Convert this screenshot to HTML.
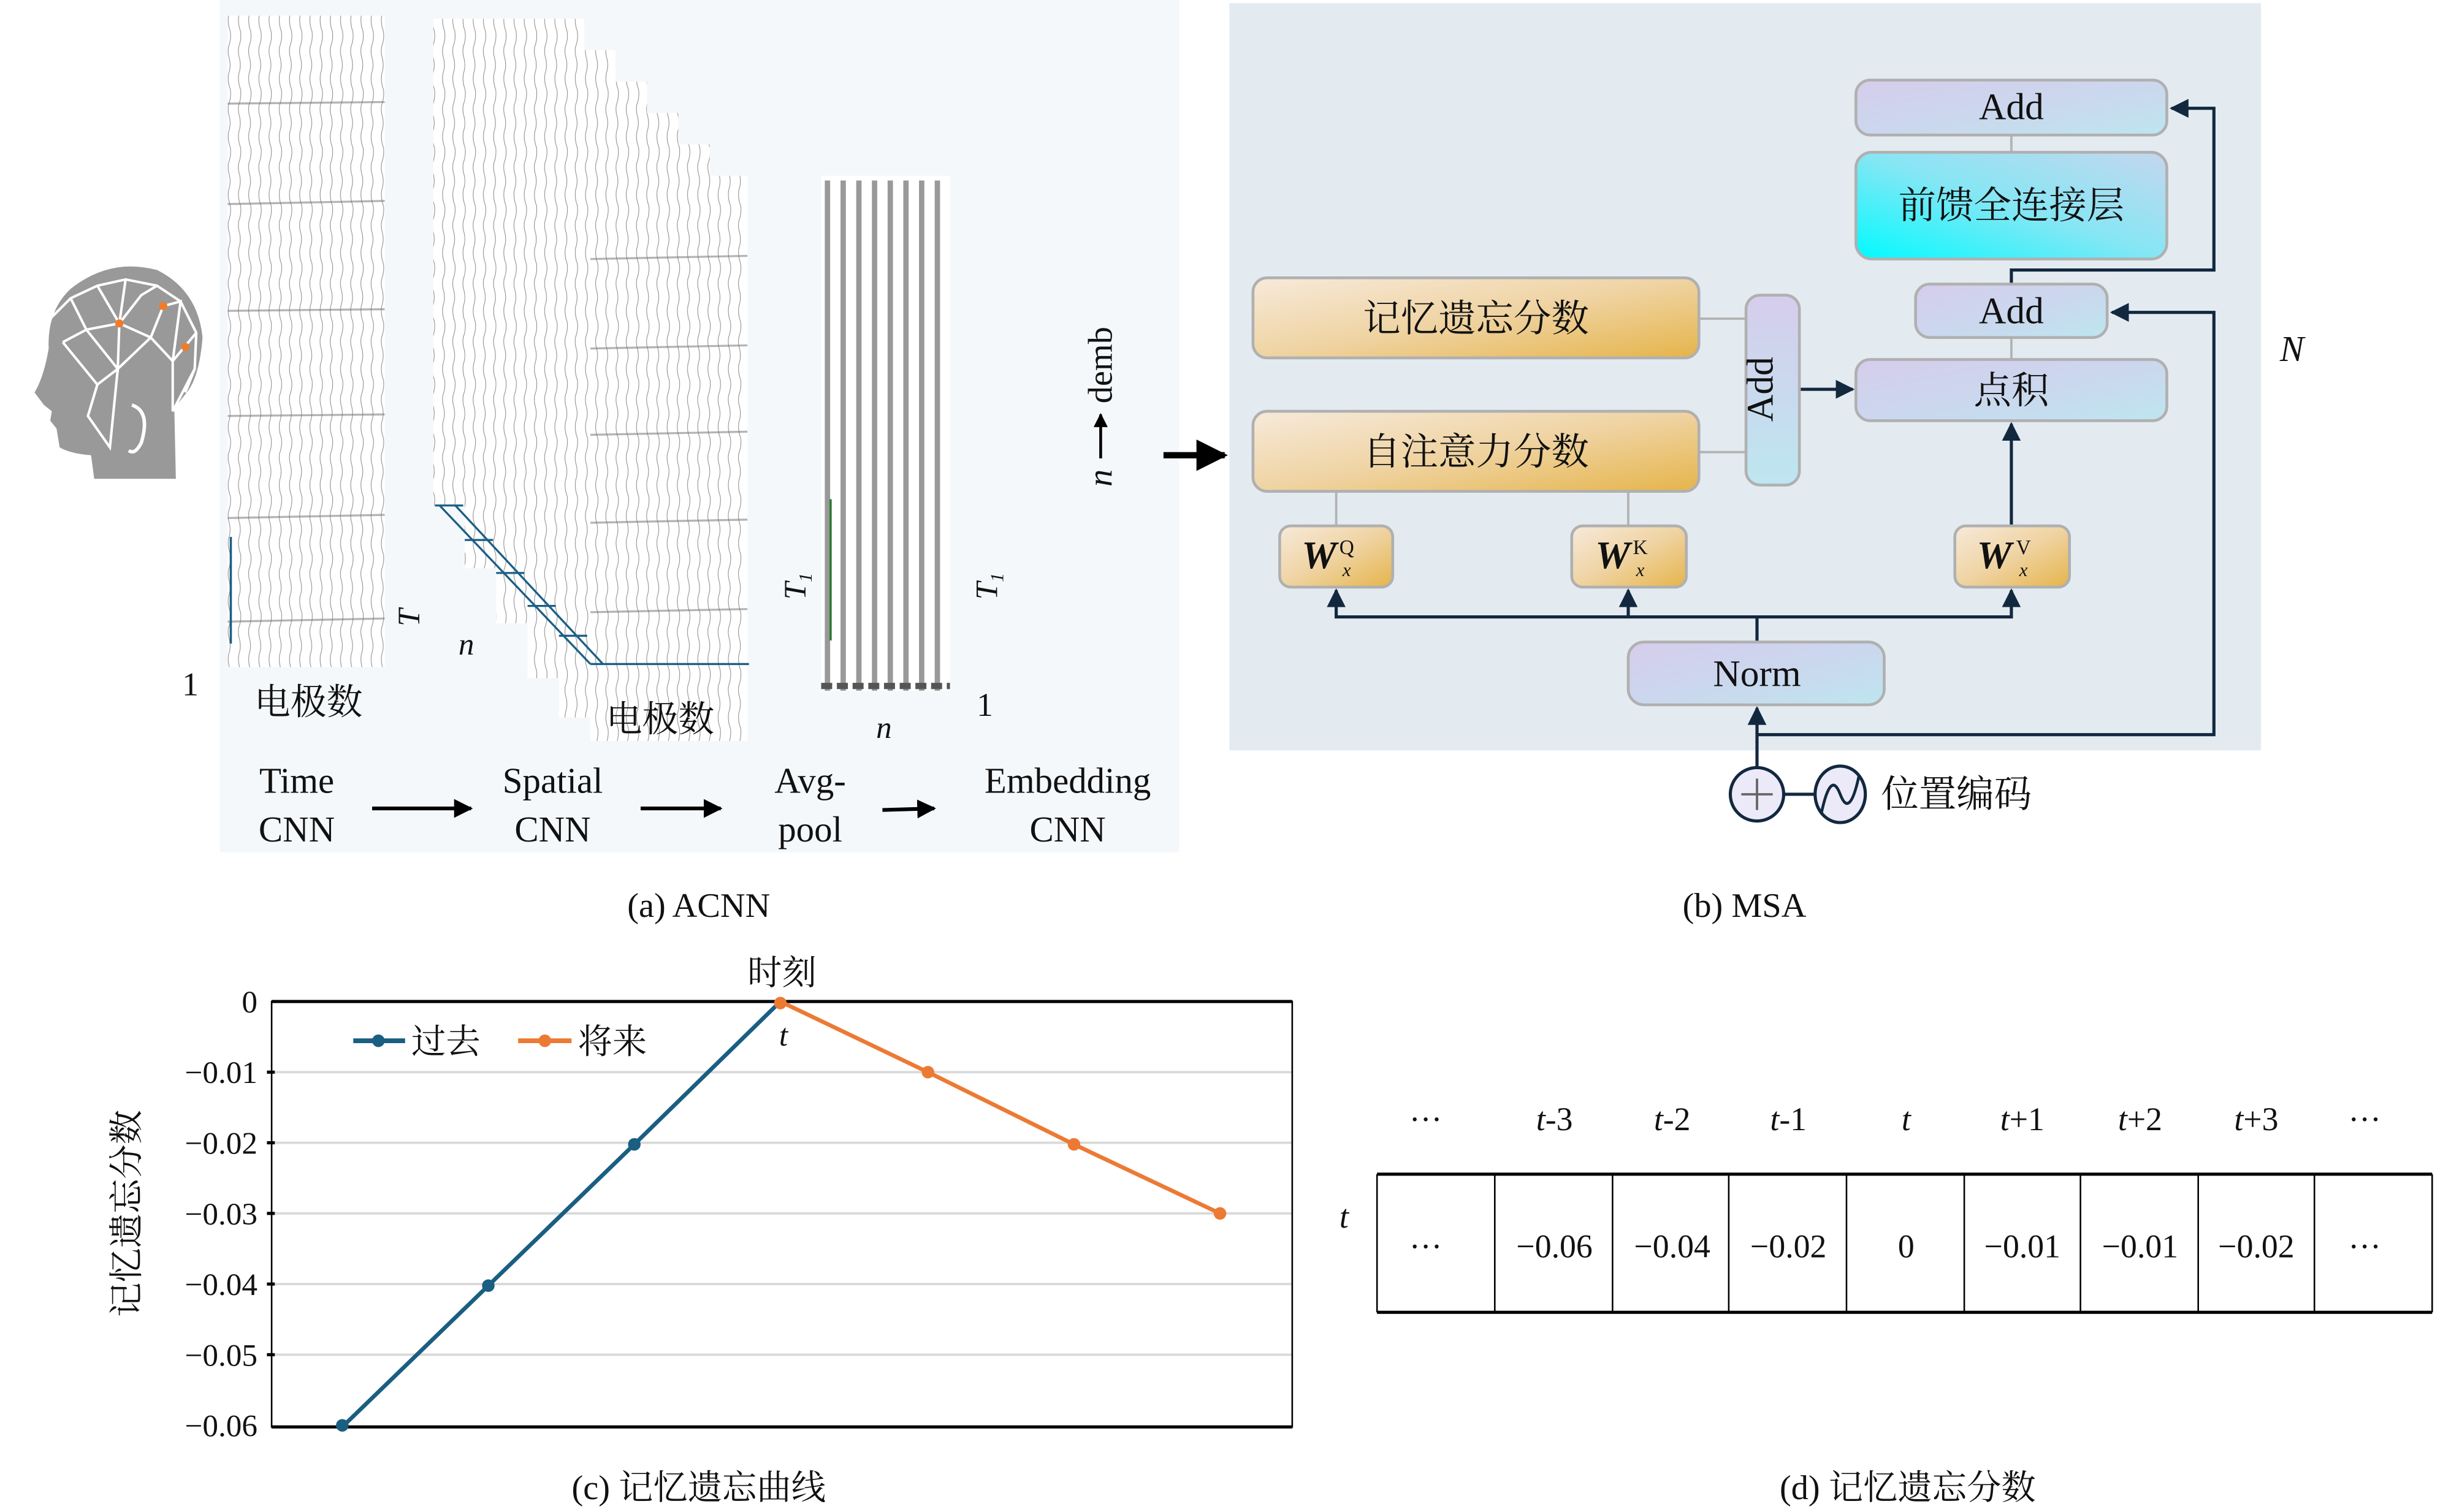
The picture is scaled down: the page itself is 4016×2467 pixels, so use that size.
<!DOCTYPE html>
<html><head><meta charset="utf-8"><style>
html,body{margin:0;padding:0;background:#fff}
svg{display:block}
text{font-family:"Liberation Serif","Noto Serif CJK SC","Noto Sans CJK SC",serif;fill:#111}
</style></head><body>
<svg width="4016" height="2467" viewBox="0 0 1568 963.2" xmlns="http://www.w3.org/2000/svg">
<defs>
<linearGradient id="pu" x1="0" y1="0" x2="1" y2="1"><stop offset="0" stop-color="#d6cdec"/><stop offset="0.6" stop-color="#c9d9ee"/><stop offset="1" stop-color="#bde6f0"/></linearGradient>
<linearGradient id="pu2" x1="0" y1="0" x2="0" y2="1"><stop offset="0" stop-color="#d6cdec"/><stop offset="1" stop-color="#bde6f0"/></linearGradient>
<linearGradient id="or" x1="0" y1="0" x2="1" y2="1"><stop offset="0" stop-color="#f7eadb"/><stop offset="0.5" stop-color="#efd3a2"/><stop offset="1" stop-color="#e5b44a"/></linearGradient>
<linearGradient id="cy" x1="0" y1="1" x2="1" y2="0"><stop offset="0" stop-color="#00fbff"/><stop offset="0.5" stop-color="#86e6f4"/><stop offset="1" stop-color="#c5d6ee"/></linearGradient>
<pattern id="eeg" width="6.5" height="37" patternUnits="userSpaceOnUse">
<path d="M3 0 Q4.3 5 2.6 10 Q1.8 15 3.7 20 Q4.4 25 2.5 30 Q2 34 3 37" fill="none" stroke="#8a8a8a" stroke-width="0.4"/>
</pattern>
<marker id="ar" viewBox="0 0 10 10" refX="9" refY="5" markerWidth="6" markerHeight="6" orient="auto"><path d="M0 0L10 5L0 10Z" fill="#12283f"/></marker>
<marker id="arb" viewBox="0 0 10 10" refX="9" refY="5" markerWidth="5" markerHeight="5" orient="auto"><path d="M0 0L10 5L0 10Z" fill="#000"/></marker>
</defs>

<!-- Panel a -->
<rect x="140" y="0" width="611" height="543" fill="#f5f8fb"/>
<path d="M60 305 L58 290 Q45 289 38 285 L36 273 L32 268 L33 262 L28 258 L22 250 Q28 240 31 222 Q30 198 45 184 Q70 164 100 172 Q126 185 129 215 Q127 240 119 250 L111 260 L112 305 Z" fill="#999"/>
<g stroke="#fff" stroke-width="1.6" fill="none">
<path d="M30 205 L45 190 L62 182 L80 178 L100 182 L115 192 L125 212 L124 235 L118 250"/>
<path d="M45 190 L55 210 L76 206 L90 188 L100 182 M55 210 L75 235 L76 206 L96 215 L104 195 M96 215 L110 230 L125 212 M75 235 L96 215 M40 218 L55 210 M40 218 L62 245 M62 245 L75 235 L70 285 L56 265 L62 245 M110 230 L110 262 L124 235 M62 182 L76 206 M80 178 L76 206 M104 195 L115 192 L110 230"/>
<path d="M84 258 Q96 262 90 282 Q86 290 82 287" stroke-width="2.2"/>
</g>
<circle cx="76" cy="206" r="2.6" fill="#f07c2a"/><circle cx="104" cy="195" r="2.6" fill="#f07c2a"/><circle cx="118" cy="221" r="2.6" fill="#f07c2a"/>

<rect x="145" y="10" width="100" height="415" fill="#fff"/>
<rect x="145" y="10" width="100" height="415" fill="url(#eeg)"/>
<g stroke="#777" stroke-width="1.3" opacity="0.55">
<line x1="145" y1="66" x2="245" y2="65"/><line x1="145" y1="130" x2="245" y2="128"/><line x1="145" y1="198" x2="245" y2="197"/><line x1="145" y1="265" x2="245" y2="264"/><line x1="145" y1="330" x2="245" y2="328"/><line x1="145" y1="396" x2="245" y2="394"/>
</g>
<line x1="147" y1="342" x2="147" y2="410" stroke="#1c5f85" stroke-width="1.4"/>
<text x="268" y="410" font-size="20" font-style="italic" transform="rotate(-90 262 405)">T</text>
<text x="116" y="443" font-size="21">1</text>
<text x="162" y="455" font-size="23">电极数</text>

<g>
<rect x="276" y="12" width="96" height="310" fill="#fff"/><rect x="276" y="12" width="96" height="310" fill="url(#eeg)"/>
<rect x="296" y="32" width="96" height="330" fill="#fff"/><rect x="296" y="32" width="96" height="330" fill="url(#eeg)"/>
<rect x="316" y="52" width="96" height="345" fill="#fff"/><rect x="316" y="52" width="96" height="345" fill="url(#eeg)"/>
<rect x="336" y="72" width="96" height="360" fill="#fff"/><rect x="336" y="72" width="96" height="360" fill="url(#eeg)"/>
<rect x="356" y="92" width="96" height="365" fill="#fff"/><rect x="356" y="92" width="96" height="365" fill="url(#eeg)"/>
<rect x="376" y="112" width="100" height="360" fill="#fff"/><rect x="376" y="112" width="100" height="360" fill="url(#eeg)"/>
</g>
<g stroke="#777" stroke-width="1.3" opacity="0.55">
<line x1="376" y1="165" x2="476" y2="163"/><line x1="376" y1="222" x2="476" y2="220"/><line x1="376" y1="277" x2="476" y2="275"/><line x1="376" y1="333" x2="476" y2="331"/><line x1="376" y1="390" x2="476" y2="388"/>
</g>
<g stroke="#1c5f85" stroke-width="1.3" fill="none">
<line x1="277" y1="322" x2="295" y2="322"/>
<line x1="280" y1="322" x2="376" y2="423"/><line x1="290" y1="322" x2="384" y2="423"/>
<line x1="296" y1="344" x2="314" y2="344"/><line x1="316" y1="365" x2="334" y2="365"/><line x1="336" y1="386" x2="354" y2="386"/><line x1="356" y1="405" x2="374" y2="405"/>
<line x1="376" y1="423" x2="477" y2="423"/>
</g>
<text x="292" y="417" font-size="20" font-style="italic">n</text>
<text x="386" y="466" font-size="23">电极数</text>

<rect x="523" y="112" width="82" height="328" fill="#fff"/>
<g stroke="#999" stroke-width="3.4">
<line x1="527" y1="115" x2="527" y2="440"/><line x1="537" y1="115" x2="537" y2="440"/><line x1="547" y1="115" x2="547" y2="440"/><line x1="557" y1="115" x2="557" y2="440"/><line x1="567" y1="115" x2="567" y2="440"/><line x1="577" y1="115" x2="577" y2="440"/><line x1="587" y1="115" x2="587" y2="440"/><line x1="597" y1="115" x2="597" y2="440"/>
</g>
<g stroke="#555" stroke-width="4"><line x1="523" y1="437" x2="605" y2="437" stroke-dasharray="7 3"/></g>
<line x1="529" y1="318" x2="529" y2="408" stroke="#2e7a32" stroke-width="1.4"/>
<text x="500" y="395" font-size="20" font-style="italic" transform="rotate(-90 500 382)">T<tspan font-size="12" dy="4">1</tspan></text>
<text x="622" y="395" font-size="20" font-style="italic" transform="rotate(-90 622 382)">T<tspan font-size="12" dy="4">1</tspan></text>
<text x="558" y="470" font-size="20" font-style="italic">n</text>
<text x="622" y="456" font-size="21">1</text>
<g transform="rotate(-90 700 240)">
<text x="630" y="248" font-size="22" font-style="italic">n</text>
<line x1="648" y1="241" x2="676" y2="241" stroke="#000" stroke-width="1.8" marker-end="url(#arb)"/>
<text x="683" y="248" font-size="22">demb</text>
</g>
<line x1="741" y1="290" x2="780" y2="290" stroke="#000" stroke-width="4" marker-end="url(#arb)"/>

<g font-size="23" text-anchor="middle">
<text x="189" y="505">Time</text><text x="189" y="536">CNN</text>
<text x="352" y="505">Spatial</text><text x="352" y="536">CNN</text>
<text x="516" y="505">Avg-</text><text x="516" y="536">pool</text>
<text x="680" y="505">Embedding</text><text x="680" y="536">CNN</text>
</g>
<g stroke="#000" stroke-width="2.4">
<line x1="237" y1="515" x2="300" y2="515" marker-end="url(#arb)"/>
<line x1="408" y1="515" x2="459" y2="515" marker-end="url(#arb)"/>
<line x1="562" y1="516" x2="595" y2="515" marker-end="url(#arb)"/>
</g>
<text x="445" y="584" font-size="22" text-anchor="middle">(a) ACNN</text>

<!-- Panel b -->
<rect x="783" y="2" width="657" height="476" fill="#e3ebf1"/>
<g stroke="#b3b3b3" stroke-width="1.5">
<line x1="1281" y1="86" x2="1281" y2="97"/>
<line x1="1281" y1="215" x2="1281" y2="229"/>
<line x1="1082" y1="203" x2="1112" y2="203"/>
<line x1="1082" y1="288" x2="1112" y2="288"/>
<line x1="851" y1="313" x2="851" y2="335"/>
<line x1="1037" y1="313" x2="1037" y2="335"/>
</g>
<g stroke="#12283f" stroke-width="2" fill="none">
<polyline points="1281,181 1281,172 1410,172 1410,69 1383,69" marker-end="url(#ar)"/>
<polyline points="1119,468 1410,468 1410,199 1345,199" marker-end="url(#ar)"/>
<line x1="1146" y1="248" x2="1180" y2="248" marker-end="url(#ar)"/>
<line x1="1281" y1="335" x2="1281" y2="270" marker-end="url(#ar)"/>
<line x1="1119" y1="409" x2="1119" y2="393"/>
<polyline points="851,376 851,393 1281,393 1281,376"/>
<line x1="851" y1="380" x2="851" y2="376" marker-end="url(#ar)"/>
<line x1="1281" y1="380" x2="1281" y2="376" marker-end="url(#ar)"/>
<line x1="1037" y1="393" x2="1037" y2="376" marker-end="url(#ar)"/>
<line x1="1119" y1="489" x2="1119" y2="451" marker-end="url(#ar)"/>
</g>
<g stroke="#b0b0b0" stroke-width="1.8">
<rect x="1182" y="51" width="198" height="35" rx="9" fill="url(#pu)"/>
<rect x="1182" y="97" width="198" height="68" rx="10" fill="url(#cy)"/>
<rect x="1220" y="181" width="122" height="34" rx="9" fill="url(#pu)"/>
<rect x="1182" y="229" width="198" height="39" rx="9" fill="url(#pu)"/>
<rect x="798" y="177" width="284" height="51" rx="9" fill="url(#or)"/>
<rect x="798" y="262" width="284" height="51" rx="9" fill="url(#or)"/>
<rect x="1112" y="188" width="34" height="121" rx="9" fill="url(#pu2)"/>
<rect x="815" y="335" width="72" height="39" rx="7" fill="url(#or)"/>
<rect x="1001" y="335" width="73" height="39" rx="7" fill="url(#or)"/>
<rect x="1245" y="335" width="73" height="39" rx="7" fill="url(#or)"/>
<rect x="1037" y="409" width="163" height="40" rx="10" fill="url(#pu)"/>
</g>
<g font-size="24" text-anchor="middle">
<text x="1281" y="76">Add</text>
<text x="1281" y="139">前馈全连接层</text>
<text x="1281" y="206">Add</text>
<text x="1281" y="257">点积</text>
<text x="940" y="211">记忆遗忘分数</text>
<text x="940" y="296">自注意力分数</text>
<text x="1119" y="437">Norm</text>
<text x="1129" y="248" transform="rotate(-90 1129 248)">Add</text>
</g>
<g font-size="25" font-weight="bold" font-style="italic">
<text x="829" y="362">W</text><text x="853" y="353" font-size="13" font-weight="normal" font-style="normal">Q</text><text x="855" y="367" font-size="12" font-weight="normal">x</text>
<text x="1016" y="362">W</text><text x="1040" y="353" font-size="13" font-weight="normal" font-style="normal">K</text><text x="1042" y="367" font-size="12" font-weight="normal">x</text>
<text x="1259" y="362">W</text><text x="1284" y="353" font-size="13" font-weight="normal" font-style="normal">V</text><text x="1286" y="367" font-size="12" font-weight="normal">x</text>
</g>
<line x1="1136" y1="506" x2="1156" y2="506" stroke="#12283f" stroke-width="2"/>
<ellipse cx="1119" cy="506" rx="17" ry="17" fill="#eceaf8" stroke="#12283f" stroke-width="2"/>
<path d="M1109 506H1129M1119 496V516" stroke="#666" stroke-width="1.5"/>
<ellipse cx="1172" cy="506" rx="16" ry="18" fill="#eceaf8" stroke="#12283f" stroke-width="2"/>
<path d="M1160 518 Q1166 490 1172 506 Q1178 522 1184 494" fill="none" stroke="#12283f" stroke-width="1.8"/>
<text x="1198" y="514" font-size="24">位置编码</text>
<text x="1452" y="230" font-size="23" font-style="italic">N</text>
<text x="1111" y="584" font-size="22" text-anchor="middle">(b) MSA</text>

<!-- Panel c chart -->
<g stroke="#d9d9d9" stroke-width="1.5">
<line x1="173" y1="683" x2="823" y2="683"/><line x1="173" y1="728" x2="823" y2="728"/><line x1="173" y1="773" x2="823" y2="773"/><line x1="173" y1="818" x2="823" y2="818"/><line x1="173" y1="863" x2="823" y2="863"/>
</g>
<rect x="173" y="638" width="650" height="271" fill="none" stroke="#000" stroke-width="1"/>
<line x1="173" y1="638" x2="823" y2="638" stroke="#000" stroke-width="2"/>
<line x1="173" y1="909" x2="823" y2="909" stroke="#000" stroke-width="2"/>
<g font-size="20" text-anchor="end">
<text x="164" y="645">0</text><text x="164" y="690">−0.01</text><text x="164" y="735">−0.02</text><text x="164" y="780">−0.03</text><text x="164" y="825">−0.04</text><text x="164" y="870">−0.05</text><text x="164" y="915">−0.06</text>
</g>
<g stroke="#000" stroke-width="2"><line x1="170" y1="683" x2="175" y2="683"/><line x1="170" y1="728" x2="175" y2="728"/><line x1="170" y1="773" x2="175" y2="773"/><line x1="170" y1="818" x2="175" y2="818"/><line x1="170" y1="863" x2="175" y2="863"/></g>
<text x="88" y="773" font-size="22" text-anchor="middle" transform="rotate(-90 88 773)">记忆遗忘分数</text>
<polyline points="218,909 311,819 404,729 497,638" fill="none" stroke="#1a5e82" stroke-width="2.6"/>
<polyline points="497,638 591,683 684,729 777,773" fill="none" stroke="#ec7a34" stroke-width="2.6"/>
<g fill="#1a5e82"><circle cx="218" cy="908" r="4"/><circle cx="311" cy="819" r="4"/><circle cx="404" cy="729" r="4"/></g>
<g fill="#ec7a34"><circle cx="497" cy="639" r="4"/><circle cx="591" cy="683" r="4"/><circle cx="684" cy="729" r="4"/><circle cx="777" cy="773" r="4"/></g>
<line x1="225" y1="663" x2="258" y2="663" stroke="#1a5e82" stroke-width="3"/><circle cx="241" cy="663" r="4" fill="#1a5e82"/>
<text x="262" y="671" font-size="22">过去</text>
<line x1="330" y1="663" x2="364" y2="663" stroke="#ec7a34" stroke-width="3"/><circle cx="347" cy="663" r="4" fill="#ec7a34"/>
<text x="368" y="671" font-size="22">将来</text>
<text x="498" y="627" font-size="22" text-anchor="middle">时刻</text>
<text x="499" y="666" font-size="20" font-style="italic" text-anchor="middle">t</text>
<text x="445" y="955" font-size="22" text-anchor="middle">(c) 记忆遗忘曲线</text>

<!-- Panel d table -->
<g font-size="21" text-anchor="middle">
<text x="908" y="720">···</text><text x="990" y="720"><tspan font-style="italic">t</tspan>-3</text><text x="1065" y="720"><tspan font-style="italic">t</tspan>-2</text><text x="1139" y="720"><tspan font-style="italic">t</tspan>-1</text><text x="1214" y="720" font-style="italic">t</text><text x="1288" y="720"><tspan font-style="italic">t</tspan>+1</text><text x="1363" y="720"><tspan font-style="italic">t</tspan>+2</text><text x="1437" y="720"><tspan font-style="italic">t</tspan>+3</text><text x="1506" y="720">···</text>
<text x="856" y="782" font-style="italic">t</text>
<text x="908" y="801">···</text><text x="990" y="801">−0.06</text><text x="1065" y="801">−0.04</text><text x="1139" y="801">−0.02</text><text x="1214" y="801">0</text><text x="1288" y="801">−0.01</text><text x="1363" y="801">−0.01</text><text x="1437" y="801">−0.02</text><text x="1506" y="801">···</text>
</g>
<g stroke="#000" stroke-width="1">
<line x1="877" y1="748" x2="877" y2="836"/><line x1="952" y1="748" x2="952" y2="836"/><line x1="1027" y1="748" x2="1027" y2="836"/><line x1="1101" y1="748" x2="1101" y2="836"/><line x1="1176" y1="748" x2="1176" y2="836"/><line x1="1251" y1="748" x2="1251" y2="836"/><line x1="1325" y1="748" x2="1325" y2="836"/><line x1="1400" y1="748" x2="1400" y2="836"/><line x1="1474" y1="748" x2="1474" y2="836"/><line x1="1549" y1="748" x2="1549" y2="836"/>
</g>
<line x1="877" y1="748" x2="1549" y2="748" stroke="#000" stroke-width="2"/>
<line x1="877" y1="836" x2="1549" y2="836" stroke="#000" stroke-width="2"/>
<text x="1215" y="955" font-size="22" text-anchor="middle">(d) 记忆遗忘分数</text>
</svg>
</body></html>
